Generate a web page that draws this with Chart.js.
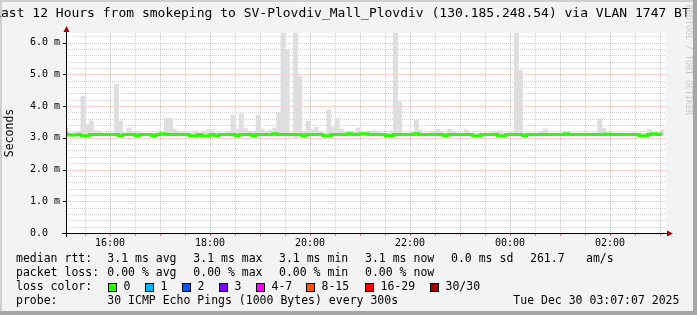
<!DOCTYPE html>
<html>
<head>
<meta charset="utf-8">
<script src="https://cdn.jsdelivr.net/npm/chart.js@4"></script>
<style>
  html, body { margin: 0; padding: 0; background: #f3f3f3; }
  canvas { display: block; }
</style>
</head>
<body>
<canvas id="smokeChart" width="697" height="315"></canvas>
<script>
// median rtt per 300 s step (ms), 15:05 .. 03:05
const medianRtt = [
  3.10,3.09,3.09,3.10,3.06,3.06,3.10,3.10,3.10,3.10,3.10,3.10,
  3.10,3.06,3.10,3.10,3.10,3.06,3.10,3.10,3.10,3.06,3.10,3.13,
  3.11,3.10,3.10,3.10,3.10,3.10,3.06,3.06,3.10,3.06,3.06,3.10,
  3.06,3.10,3.10,3.10,3.10,3.06,3.10,3.10,3.10,3.06,3.10,3.10,
  3.10,3.10,3.13,3.10,3.10,3.10,3.10,3.10,3.10,3.06,3.10,3.10,
  3.10,3.10,3.06,3.06,3.10,3.10,3.10,3.10,3.13,3.10,3.10,3.13,
  3.13,3.10,3.10,3.10,3.10,3.07,3.07,3.10,3.10,3.10,3.10,3.10,
  3.13,3.10,3.10,3.10,3.10,3.10,3.10,3.06,3.10,3.10,3.10,3.10,
  3.10,3.10,3.06,3.06,3.10,3.10,3.10,3.10,3.06,3.06,3.10,3.10,
  3.10,3.10,3.06,3.10,3.10,3.10,3.10,3.10,3.10,3.10,3.10,3.10,
  3.13,3.10,3.10,3.10,3.10,3.10,3.10,3.10,3.10,3.10,3.12,3.10,
  3.10,3.10,3.10,3.10,3.10,3.10,3.06,3.06,3.10,3.13,3.10,3.12
];
// smoke: lowest and highest ping of each step (ms)
const smokeMin = [
  3.06,3.06,3.06,3.06,3.06,3.06,3.06,3.06,3.06,3.06,3.06,3.06,
  3.06,3.06,3.06,3.06,3.06,3.06,3.06,3.06,3.06,3.06,3.06,3.06,
  3.06,3.06,3.06,3.06,3.06,3.06,3.06,3.06,3.06,3.06,3.06,3.06,
  3.06,3.06,3.06,3.06,3.06,3.06,3.06,3.06,3.06,3.06,3.06,3.06,
  3.06,3.06,3.06,3.06,3.06,3.06,3.06,2.98,3.06,3.06,3.06,3.06,
  3.06,3.06,3.06,3.06,3.06,3.06,3.06,3.06,3.06,3.06,3.06,3.06,
  3.06,3.06,3.06,3.06,3.06,3.06,3.06,3.06,3.06,3.06,3.06,3.06,
  3.06,3.06,3.06,3.06,3.06,3.06,3.06,3.06,3.06,3.06,3.06,3.06,
  3.06,3.06,3.06,3.06,3.06,3.06,3.06,3.06,3.06,3.06,3.06,3.06,
  3.06,3.06,3.06,3.06,3.06,3.06,3.06,3.06,3.06,3.06,3.06,3.06,
  3.06,3.06,3.06,3.06,3.06,3.06,3.06,3.06,3.06,3.06,3.06,3.06,
  3.06,3.06,3.06,3.06,3.06,3.06,3.06,3.06,3.06,3.06,3.06,3.06
];
const smokeMax = [
  3.30,3.15,3.15,3.20,4.30,3.42,3.53,3.23,3.20,3.15,3.15,3.15,
  4.68,3.53,3.15,3.31,3.20,3.20,3.15,3.15,3.15,3.15,3.15,3.15,
  3.61,3.61,3.26,3.20,3.20,3.15,3.15,3.20,3.15,3.20,3.26,3.26,
  3.15,3.15,3.15,3.20,3.72,3.28,3.76,3.29,3.20,3.20,3.72,3.28,
  3.20,3.25,3.31,3.79,6.50,5.76,3.15,6.50,4.93,3.20,3.52,3.25,
  3.33,3.20,3.15,3.88,3.34,3.61,3.27,3.20,3.20,3.20,3.31,3.20,
  3.20,3.20,3.22,3.20,3.15,3.15,3.20,6.50,4.14,3.15,3.15,3.20,
  3.55,3.25,3.15,3.15,3.20,3.27,3.20,3.15,3.27,3.20,3.15,3.15,
  3.26,3.15,3.15,3.15,3.15,3.15,3.15,3.20,3.22,3.15,3.15,3.20,
  6.50,5.13,3.15,3.15,3.15,3.15,3.20,3.28,3.15,3.15,3.15,3.15,
  3.15,3.15,3.15,3.15,3.15,3.15,3.15,3.15,3.61,3.30,3.15,3.15,
  3.15,3.15,3.15,3.15,3.15,3.15,3.15,3.15,3.26,3.15,3.15,3.26
];

const timeTicks = [16, 18, 20, 22, 24, 26];
const timeLabels = ["16:00", "18:00", "20:00", "22:00", "00:00", "02:00"];
const rttTicks = [0, 1, 2, 3, 4, 5, 6];
const rttLabels = ["0.0", "1.0 m", "2.0 m", "3.0 m", "4.0 m", "5.0 m", "6.0 m"];

const lossNames = ["0", "1", "2", "3", "4-7", "8-15", "16-29", "30/30"];
const lossColors = ["#26ff00", "#00b8ff", "#0059ff", "#7e00ff", "#ff00ff", "#ff5500", "#ff0000", "#a10000"];

const titleText = "Last 12 Hours from smokeping to SV-Plovdiv_Mall_Plovdiv (130.185.248.54) via VLAN 1747 BT";
const firstStep = 15 + 5 / 60;     // hours
const stepHours = 5 / 60;          // 300 s
const rangeEnd = 27 + 7 / 60 + 7 / 3600;
const rangeStart = rangeEnd - 12;

const xs = medianRtt.map((_, i) => firstStep + (i + 0.5) * stepHours);
const MONO = "'DejaVu Sans Mono', monospace";

const smokeping = {
  id: "smokeping",
  beforeDraw(chart) {
    const ctx = chart.ctx, a = chart.chartArea;
    ctx.save();
    ctx.fillStyle = "#f3f3f3";
    ctx.fillRect(0, 0, chart.width, chart.height);
    ctx.fillStyle = "#d0d0d0";
    ctx.fillRect(0, 0, chart.width, 2);
    ctx.fillRect(0, 0, 2, chart.height);
    ctx.fillStyle = "#a6a6a6";
    ctx.fillRect(chart.width - 4, 0, 4, chart.height);
    ctx.fillRect(0, chart.height - 4, chart.width, 4);
    ctx.fillStyle = "#ffffff";
    ctx.fillRect(a.left, a.top, a.right - a.left, a.bottom - a.top);
    ctx.restore();
  },
  beforeDatasetsDraw(chart) {
    const ctx = chart.ctx, a = chart.chartArea;
    const x = chart.scales.x, y = chart.scales.y;
    ctx.save();
    ctx.lineWidth = 1;
    ctx.setLineDash([1, 1]);
    // horizontal grid, 0.2 ms minor / 1 ms major
    for (let k = 1; k <= 31; k++) {
      const py = Math.round(y.getPixelForValue(k * 0.2)) + 0.5;
      ctx.strokeStyle = k % 5 === 0 ? "rgba(230,110,110,0.5)" : "rgba(150,150,150,0.45)";
      ctx.beginPath(); ctx.moveTo(a.left, py); ctx.lineTo(a.right, py); ctx.stroke();
    }
    // vertical grid, 30 min minor / 1 h major
    for (let h = 15.5; h < rangeEnd; h += 0.5) {
      const px = Math.round(x.getPixelForValue(h)) + 0.5;
      ctx.strokeStyle = h % 1 === 0 ? "rgba(230,110,110,0.5)" : "rgba(150,150,150,0.45)";
      ctx.beginPath(); ctx.moveTo(px, a.top); ctx.lineTo(px, a.bottom); ctx.stroke();
    }
    ctx.restore();
  },
  afterDatasetsDraw(chart) {
    const ctx = chart.ctx, a = chart.chartArea;
    const x = chart.scales.x, y = chart.scales.y;
    ctx.save();
    ctx.lineWidth = 1;
    ctx.strokeStyle = "#000";
    ctx.beginPath();
    ctx.moveTo(a.left - 4, a.bottom + 0.5); ctx.lineTo(a.right + 2, a.bottom + 0.5);
    ctx.moveTo(a.left + 0.5, a.bottom + 4); ctx.lineTo(a.left + 0.5, a.top - 2);
    ctx.stroke();
    // tick marks
    for (let h = 15.5; h < rangeEnd; h += 0.5) {
      const px = Math.round(x.getPixelForValue(h)) + 0.5;
      ctx.strokeStyle = h % 1 === 0 ? "rgba(225,80,80,0.8)" : "rgba(120,120,120,0.7)";
      ctx.beginPath(); ctx.moveTo(px, a.bottom + 1); ctx.lineTo(px, a.bottom + 3); ctx.stroke();
    }
    ctx.strokeStyle = "#000";
    for (let k = 0; k <= 6; k++) {
      const py = Math.round(y.getPixelForValue(k)) + 0.5;
      ctx.beginPath(); ctx.moveTo(a.left - 3, py); ctx.lineTo(a.left, py); ctx.stroke();
    }
    // arrows
    ctx.fillStyle = "#a00000";
    ctx.beginPath();
    ctx.moveTo(a.right + 7, a.bottom + 0.5);
    ctx.lineTo(a.right + 1, a.bottom - 2.5);
    ctx.lineTo(a.right + 1, a.bottom + 3.5);
    ctx.closePath(); ctx.fill();
    ctx.beginPath();
    ctx.moveTo(a.left + 0.5, a.top - 7);
    ctx.lineTo(a.left - 2.5, a.top - 1);
    ctx.lineTo(a.left + 3.5, a.top - 1);
    ctx.closePath(); ctx.fill();
    ctx.restore();
  },
  afterDraw(chart) {
    const ctx = chart.ctx, a = chart.chartArea;
    ctx.save();
    ctx.fillStyle = "#000";
    ctx.textBaseline = "middle";
    ctx.textAlign = "left";
    ctx.font = "13px " + MONO;
    ctx.fillText(titleText, -6.8, 13.5);

    // rrdtool credit, vertical
    ctx.save();
    ctx.translate(688.5, 5);
    ctx.rotate(Math.PI / 2);
    ctx.font = "8.3px " + MONO;
    ctx.fillStyle = "#c8c8c8";
    ctx.fillText("RRDTOOL / TOBI OETIKER", 0, 0);
    ctx.restore();

    // y title
    ctx.save();
    ctx.translate(10.5, (a.top + a.bottom) / 2);
    ctx.rotate(-Math.PI / 2);
    ctx.textAlign = "center";
    ctx.font = "11.5px " + MONO;
    ctx.fillText("Seconds", 0, 0);
    ctx.restore();

    // legend block
    ctx.font = "11.5px " + MONO;
    const rows = [
      [[16, "median rtt:"], [107.3, "3.1 ms avg"], [193.3, "3.1 ms max"], [279, "3.1 ms min"],
       [365, "3.1 ms now"], [451, "0.0 ms sd"], [530, "261.7"], [586, "am/s"]],
      [[16, "packet loss:"], [107.3, "0.00 % avg"], [193.3, "0.00 % max"], [279, "0.00 % min"],
       [365, "0.00 % now"]],
      [[16, "loss color:"]],
      [[16, "probe:"], [107.3, "30 ICMP Echo Pings (1000 Bytes) every 300s"], [513.3, "Tue Dec 30 03:07:07 2025"]]
    ];
    const rowY = [259, 273.3, 287.3, 301.3];
    rows.forEach((r, j) => r.forEach(([px, s]) => ctx.fillText(s, px, rowY[j])));

    const boxX = [108.5, 145.5, 182.5, 219.5, 256.5, 306.5, 365.5, 430.5];
    lossNames.forEach((n, i) => {
      ctx.fillStyle = lossColors[i];
      ctx.fillRect(boxX[i], 283.5, 8, 8);
      ctx.strokeStyle = "#000";
      ctx.lineWidth = 1;
      ctx.strokeRect(boxX[i], 283.5, 8, 8);
      ctx.fillStyle = "#000";
      ctx.fillText(n, boxX[i] + 15, rowY[2]);
    });
    ctx.restore();
  }
};

new Chart(document.getElementById("smokeChart"), {
  type: "bar",
  data: {
    datasets: [
      {
        type: "line",
        label: "median rtt",
        data: xs.map((x, i) => ({ x: x, y: medianRtt[i] })),
        borderColor: "#26ff00",
        borderWidth: 3,
        pointRadius: 0,
        stepped: "middle",
        order: 0
      },
      {
        type: "bar",
        label: "smoke",
        data: xs.map((x, i) => ({ x: x, y: [smokeMin[i], smokeMax[i]] })),
        backgroundColor: "#dedede",
        borderWidth: 0,
        barPercentage: 1,
        categoryPercentage: 1,
        order: 1
      }
    ]
  },
  options: {
    responsive: false,
    animation: false,
    devicePixelRatio: 1,
    layout: { padding: { left: 30, top: 33, right: 31, bottom: 62 } },
    plugins: { legend: { display: false }, title: { display: false }, tooltip: { enabled: false } },
    scales: {
      x: {
        type: "linear",
        offset: false,
        min: rangeStart,
        max: rangeEnd,
        grid: { display: false, drawTicks: false },
        border: { display: false },
        afterBuildTicks: s => { s.ticks = timeTicks.map(v => ({ value: v })); },
        afterFit: s => { s.height = 20; },
        ticks: {
          autoSkip: false,
          maxRotation: 0,
          padding: 4,
          color: "#000",
          font: { family: MONO, size: 10 },
          callback: v => timeLabels[timeTicks.indexOf(v)]
        }
      },
      y: {
        min: 0,
        max: 6.3,
        grid: { display: false, drawTicks: false },
        border: { display: false },
        afterBuildTicks: s => { s.ticks = rttTicks.map(v => ({ value: v })); },
        afterFit: s => { s.width = 36; },
        ticks: {
          crossAlign: "far",
          color: "#000",
          font: { family: MONO, size: 10 },
          callback: v => rttLabels[rttTicks.indexOf(v)]
        }
      }
    }
  },
  plugins: [smokeping]
});
</script>
</body>
</html>
